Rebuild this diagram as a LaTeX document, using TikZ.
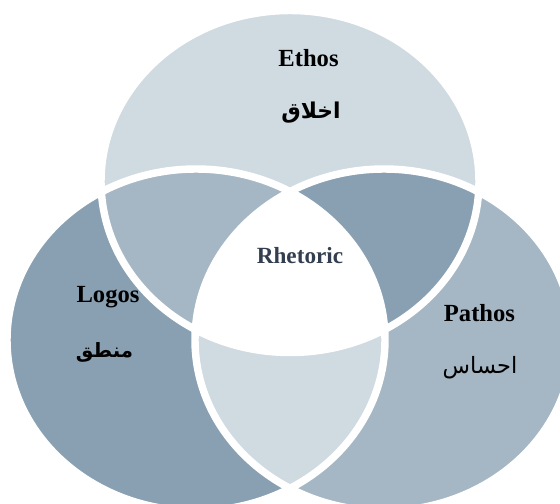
\documentclass[tikz,border=0pt]{standalone}
\usepackage{fontspec}
\setmainfont{Liberation Serif}
\newfontfamily\arabicfont[Script=Arabic]{DejaVu Sans}
\TeXXeTstate=1
\definecolor{vennlight}{RGB}{207,218,225}
\definecolor{vennmid}{RGB}{165,183,196}
\definecolor{venndark}{RGB}{136,160,178}
\definecolor{rhetink}{RGB}{51,63,80}
\tikzset{
  rim/.style={draw=white, line width=5.3pt},
  latin/.style={font=\fontsize{17.5}{20}\selectfont\bfseries},
  arabic/.style={font=\fontsize{15.5}{18}\selectfont\arabicfont\bfseries},
}

\begin{document}
\begin{tikzpicture}[x=0.025cm, y=-0.025cm]
  \useasboundingbox (0,0) rectangle (560,504);
  \clip (0,0) rectangle (560,504);
  \coordinate (ce) at (290,181.5);
  \coordinate (cl) at (196,340);
  \coordinate (cr) at (384,340);

  \fill[vennlight] (ce) ellipse [x radius=189, y radius=171];
  \fill[venndark] (cl) ellipse [x radius=189, y radius=171];
  \fill[vennmid] (cr) ellipse [x radius=189, y radius=171];
  \begin{scope}
    \clip (ce) ellipse [x radius=189, y radius=171];
    \fill[vennmid] (cl) ellipse [x radius=189, y radius=171];
    \fill[venndark] (cr) ellipse [x radius=189, y radius=171];
  \end{scope}
  \begin{scope}
    \clip (cl) ellipse [x radius=189, y radius=171];
    \fill[vennlight] (cr) ellipse [x radius=189, y radius=171];
  \end{scope}
  \begin{scope}
    \clip (ce) ellipse [x radius=189, y radius=171];
    \clip (cl) ellipse [x radius=189, y radius=171];
    \fill[white] (cr) ellipse [x radius=189, y radius=171];
  \end{scope}
  \draw[rim] (ce) ellipse [x radius=189, y radius=171];
  \draw[rim] (cl) ellipse [x radius=189, y radius=171];
  \draw[rim] (cr) ellipse [x radius=189, y radius=171];

  \node[latin] (ethos) at (308.5,58) {Ethos};
  \node[arabic] (ethosar) at (311,113) {\beginR اخلاق\endR};
  \node[latin] (logos) at (108,297) {Logos};
  \node[arabic, font=\fontsize{14}{17}\selectfont\arabicfont\bfseries] (logosar) at (104.5,352) {\beginR منطق\endR};
  \node[latin] (pathos) at (479.5,313) {Pathos};
  \node[arabic, font=\fontsize{16}{19}\selectfont\arabicfont] (pathosar) at (480,368) {\beginR احساس\endR};
  \node[latin, text=rhetink, font=\fontsize{16.5}{19}\selectfont\bfseries] (rhetoric) at (300,256) {Rhetoric};
\end{tikzpicture}
\end{document}
